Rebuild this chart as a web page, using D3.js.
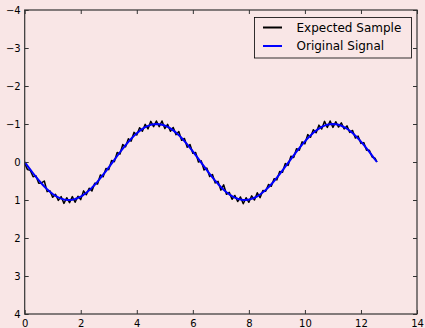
<!DOCTYPE html>
<html><head><meta charset="utf-8">
<script src="https://cdn.jsdelivr.net/npm/d3@7"></script>
<style>
html,body{margin:0;padding:0;background:#f9e6e6;}
svg{display:block;font-family:"DejaVu Sans",sans-serif;}
</style></head>
<body>
<svg id="c" width="425" height="328"></svg>
<script>
const xTicks = [0,2,4,6,8,10,12,14];
const yTicks = [-4,-3,-2,-1,0,1,2,3,4];
const seriesNames = ["Expected Sample","Original Signal"];
const seriesColors = ["#000000","#0000ff"];
const xs = [0.0,0.1,0.2,0.3,0.4,0.5,0.6,0.7,0.8,0.9,1.0,1.1,1.2,1.3,1.4,1.5,1.6,1.7,1.8,1.9,2.0,2.1,2.2,2.3,2.4,2.5,2.6,2.7,2.8,2.9,3.0,3.1,3.2,3.3,3.4,3.5,3.6,3.7,3.8,3.9,4.0,4.1,4.2,4.3,4.4,4.5,4.6,4.7,4.8,4.9,5.0,5.1,5.2,5.3,5.4,5.5,5.6,5.7,5.8,5.9,6.0,6.1,6.2,6.3,6.4,6.5,6.6,6.7,6.8,6.9,7.0,7.1,7.2,7.3,7.4,7.5,7.6,7.7,7.8,7.9,8.0,8.1,8.2,8.3,8.4,8.5,8.6,8.7,8.8,8.9,9.0,9.1,9.2,9.3,9.4,9.5,9.6,9.7,9.8,9.9,10.0,10.1,10.2,10.3,10.4,10.5,10.6,10.7,10.8,10.9,11.0,11.1,11.2,11.3,11.4,11.5,11.6,11.7,11.8,11.9,12.0,12.1,12.2,12.3,12.4,12.5,12.57];
const originalSignal = [0.000,0.100,0.199,0.296,0.389,0.479,0.565,0.644,0.717,0.783,0.841,0.891,0.932,0.964,0.985,0.997,1.000,0.992,0.974,0.946,0.909,0.863,0.808,0.746,0.675,0.598,0.516,0.427,0.335,0.239,0.141,0.042,-0.058,-0.158,-0.256,-0.351,-0.443,-0.530,-0.612,-0.688,-0.757,-0.818,-0.872,-0.916,-0.952,-0.978,-0.994,-1.000,-0.996,-0.982,-0.959,-0.926,-0.883,-0.832,-0.773,-0.706,-0.631,-0.551,-0.465,-0.374,-0.279,-0.182,-0.083,0.017,0.117,0.215,0.312,0.405,0.494,0.578,0.657,0.729,0.794,0.850,0.899,0.938,0.968,0.988,0.999,0.999,0.989,0.970,0.941,0.902,0.855,0.798,0.734,0.663,0.585,0.501,0.412,0.319,0.223,0.124,0.025,-0.075,-0.174,-0.272,-0.366,-0.458,-0.544,-0.625,-0.700,-0.768,-0.828,-0.880,-0.923,-0.957,-0.981,-0.995,-1.000,-0.994,-0.979,-0.954,-0.919,-0.875,-0.822,-0.761,-0.693,-0.618,-0.537,-0.450,-0.359,-0.264,-0.166,-0.066,0.000];
const expectedSample = [0.04,0.20,0.22,0.39,0.36,0.56,0.55,0.50,0.78,0.76,0.93,0.85,1.01,0.91,1.09,0.94,1.07,0.91,1.06,0.90,0.99,0.76,0.86,0.69,0.76,0.56,0.58,0.34,0.39,0.17,0.20,-0.04,-0.01,-0.25,-0.21,-0.46,-0.40,-0.61,-0.55,-0.78,-0.71,-0.90,-0.81,-0.99,-0.87,-1.07,-0.93,-1.08,-0.93,-1.08,-0.88,-0.99,-0.81,-0.91,-0.72,-0.80,-0.57,-0.62,-0.39,-0.46,-0.23,-0.25,0.00,-0.03,0.21,0.16,0.38,0.33,0.55,0.51,0.74,0.60,0.85,0.80,0.98,0.88,1.04,0.92,1.10,0.94,1.06,0.89,1.00,0.81,0.94,0.75,0.77,0.59,0.64,0.44,0.47,0.25,0.27,0.04,0.09,-0.15,-0.12,-0.35,-0.31,-0.53,-0.48,-0.72,-0.65,-0.85,-0.77,-0.97,-0.87,-1.07,-0.91,-1.08,-0.91,-1.06,-0.92,-1.03,-0.87,-0.95,-0.78,-0.83,-0.63,-0.68,-0.49,-0.51,-0.31,-0.31,-0.13,-0.10,0.00];

const svg = d3.select("#c");
const L = 24.7, R = 417, T = 10, B = 314;
const x = d3.scaleLinear().domain([0,14]).range([L,R]);
const y = d3.scaleLinear().domain([-4,4]).range([T,B]);

svg.append("rect").attr("width",425).attr("height",328).attr("fill","#f9e6e6");

const line = (vals) => d3.line().x((d,i)=>x(xs[i])).y(d=>y(d))(vals);
svg.append("path").attr("d",line(expectedSample)).attr("fill","none")
  .attr("stroke",seriesColors[0]).attr("stroke-width",1.5).attr("stroke-linejoin","round");
svg.append("path").attr("d",line(originalSignal)).attr("fill","none")
  .attr("stroke",seriesColors[1]).attr("stroke-width",2).attr("stroke-linejoin","round");

const tc = "#333";
const gB = svg.append("g").attr("transform",`translate(0,${B})`)
  .call(d3.axisBottom(x).tickValues(xTicks).tickSize(-4).tickPadding(5).tickFormat(d3.format("d")));
const gT = svg.append("g").attr("transform",`translate(0,${T})`)
  .call(d3.axisTop(x).tickValues(xTicks).tickSize(-4).tickFormat(""));
const gL = svg.append("g").attr("transform",`translate(${L},0)`)
  .call(d3.axisLeft(y).tickValues(yTicks).tickSize(-4).tickPadding(4).tickFormat(d=>d<0?"\u2212"+Math.abs(d):String(d)));
const gR = svg.append("g").attr("transform",`translate(${R},0)`)
  .call(d3.axisRight(y).tickValues(yTicks).tickSize(-4).tickFormat(""));
[gB,gT,gL,gR].forEach(g=>{
  g.select(".domain").remove();
  g.selectAll(".tick line").attr("stroke",tc).attr("stroke-width",1);
  g.selectAll("text").attr("font-family","DejaVu Sans").attr("font-size",10).attr("fill","#000");
});
gB.selectAll("text").attr("dy","0.75em");
svg.append("rect").attr("x",L).attr("y",T).attr("width",R-L).attr("height",B-T)
  .attr("fill","none").attr("stroke",tc).attr("stroke-width",1.2);

const lg = svg.append("g");
lg.append("rect").attr("x",254.5).attr("y",17.5).attr("width",157).attr("height",40.5)
  .attr("fill","#f9e6e6").attr("stroke","#000").attr("stroke-width",0.8);
seriesNames.forEach((n,i)=>{
  const yy = 27.5 + i*18.5;
  lg.append("line").attr("x1",263).attr("x2",282).attr("y1",yy).attr("y2",yy)
    .attr("stroke",seriesColors[i]).attr("stroke-width",2);
  lg.append("text").attr("x",296.5).attr("y",yy+4.3).attr("font-size",12)
    .attr("font-family","DejaVu Sans").attr("fill","#000").text(n);
});
</script>
</body></html>
